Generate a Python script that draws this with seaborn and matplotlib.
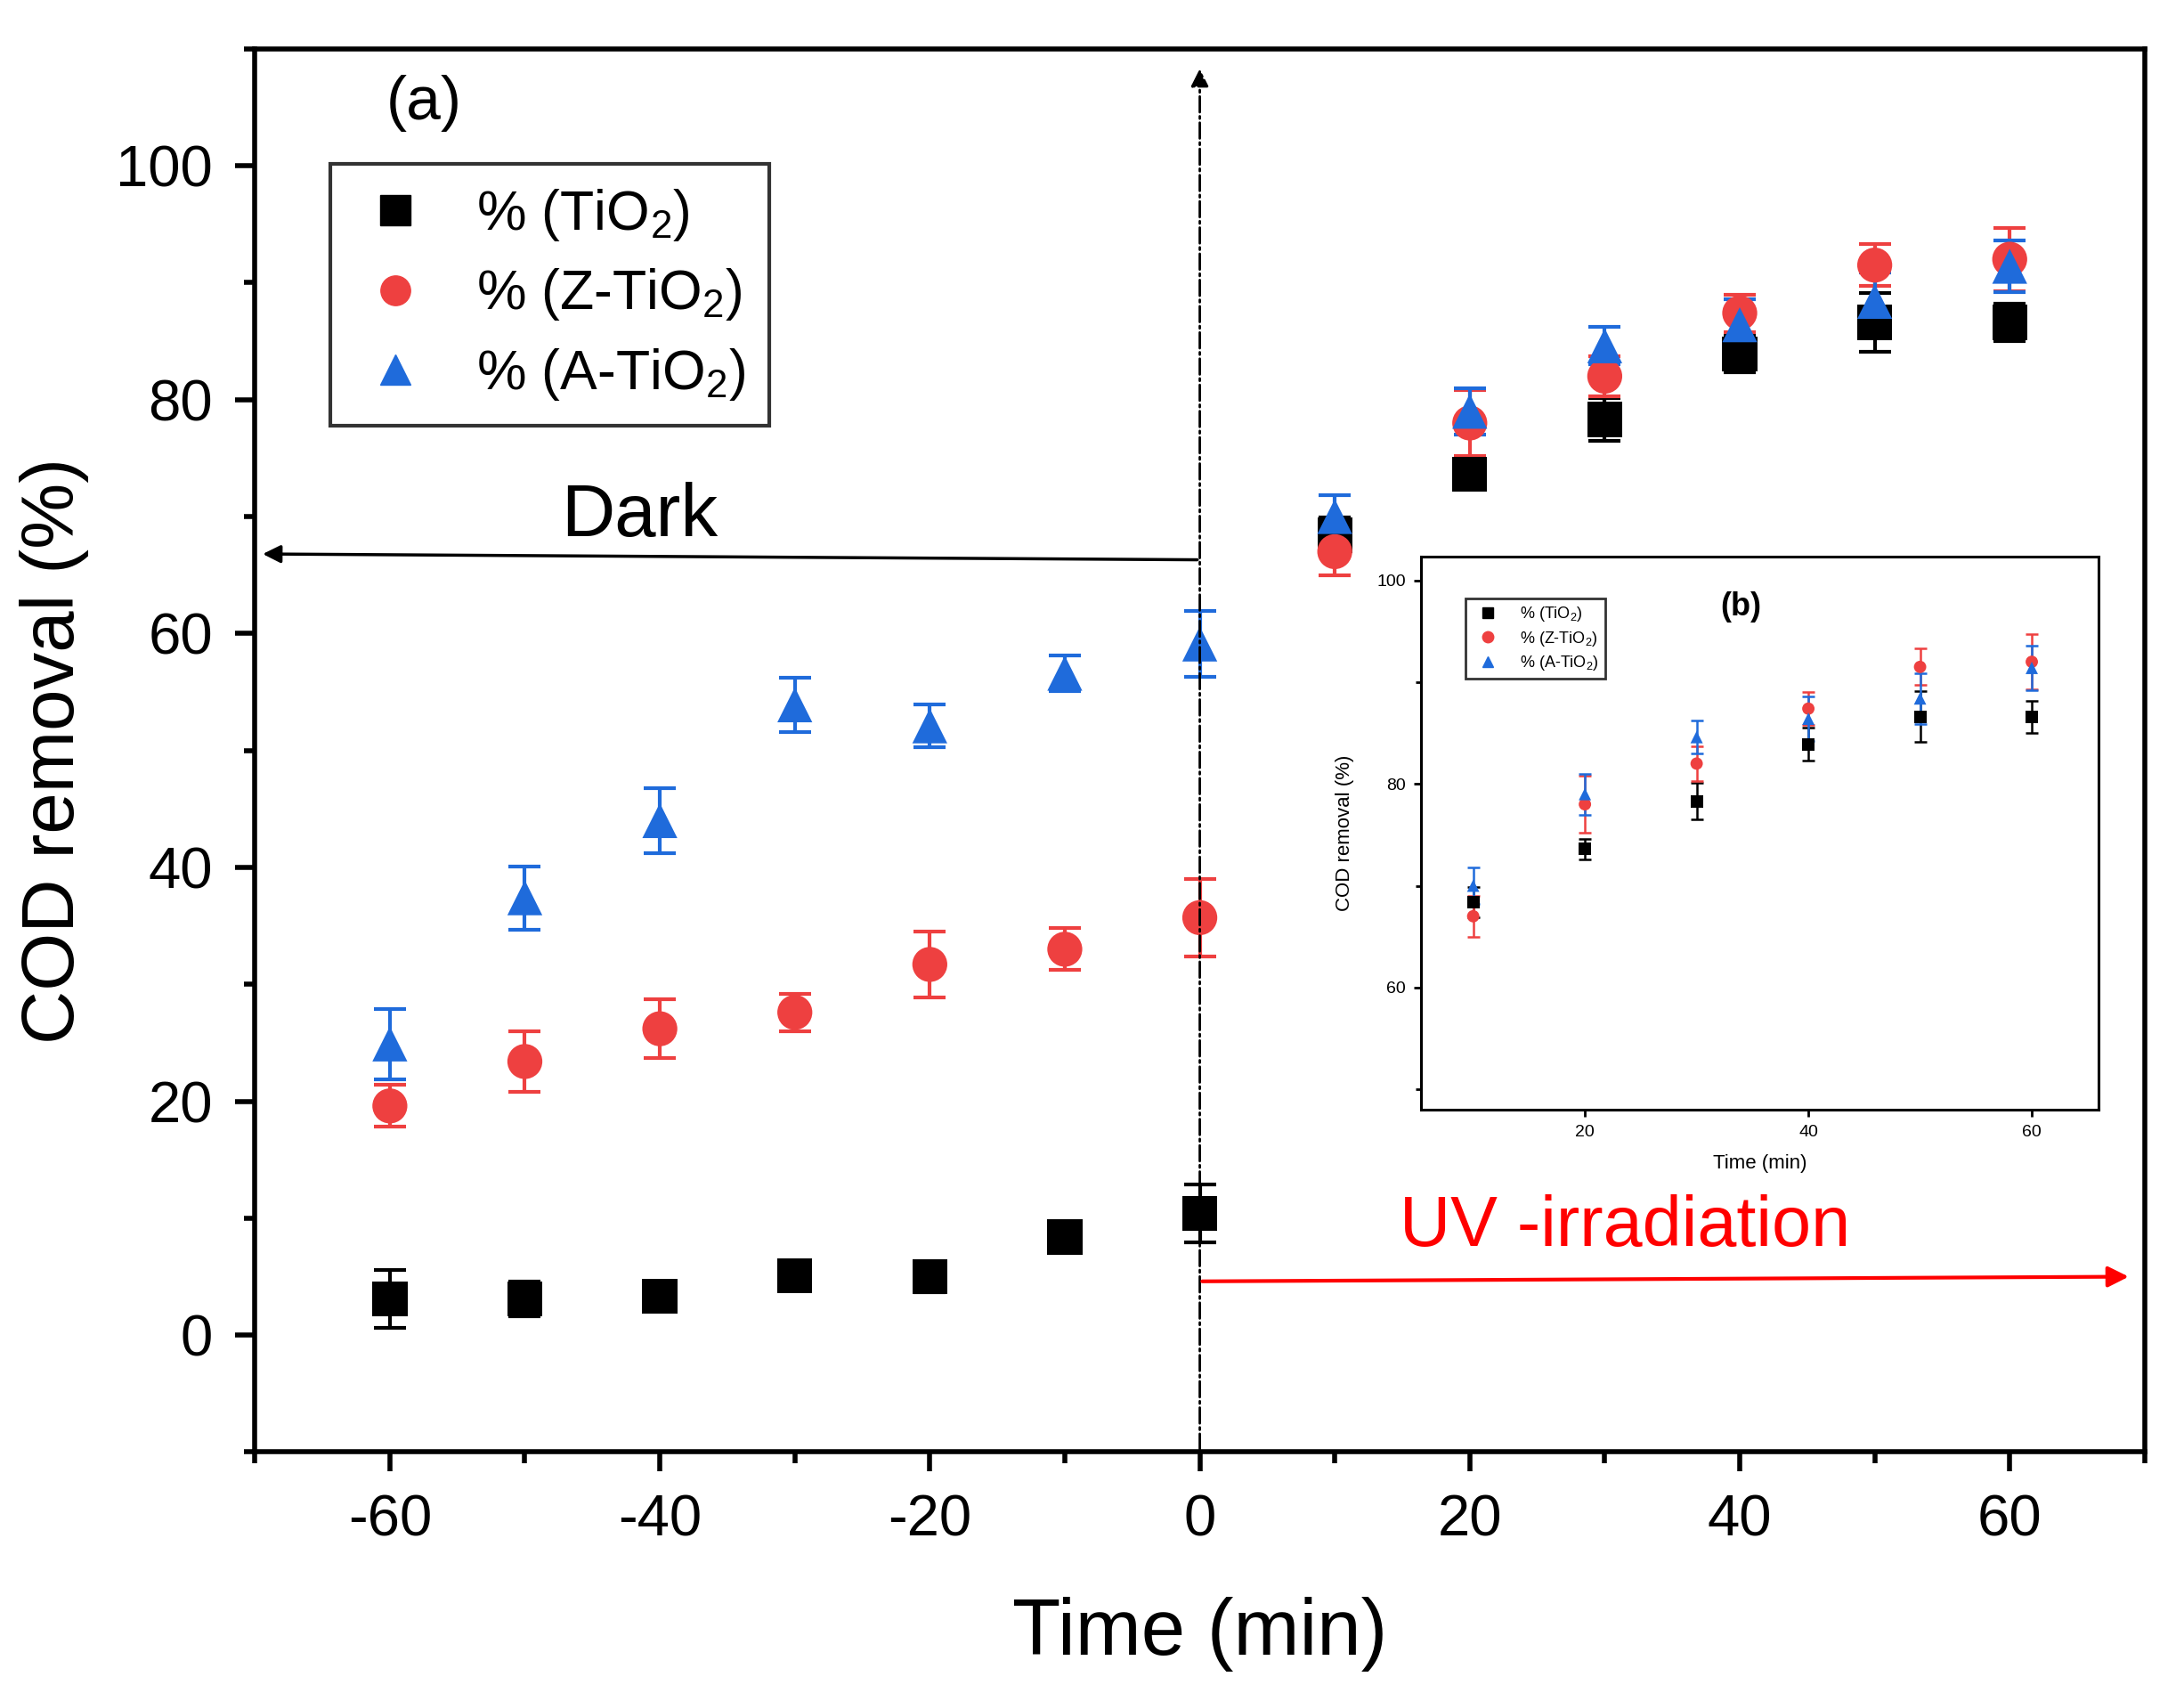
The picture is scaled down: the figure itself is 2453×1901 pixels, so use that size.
import numpy as np
import pandas as pd
import matplotlib
matplotlib.use("Agg")
import matplotlib.pyplot as plt
from matplotlib.ticker import MultipleLocator
import seaborn as sns

# data
time = [-60, -50, -40, -30, -20, -10, 0, 10, 20, 30, 40, 50, 60]
tio2 = [3.1, 3.1, 3.3, 5.1, 5.0, 8.4, 10.4, 68.4, 73.6, 78.3, 83.9, 86.6, 86.6]
tio2_err = [2.5, 1.5, 1.2, 0.6, 1.3, 0.4, 2.5, 1.5, 1.0, 1.8, 1.6, 2.5, 1.6]
ztio2 = [19.6, 23.4, 26.2, 27.6, 31.7, 33.0, 35.7, 67.0, 78.0, 82.0, 87.4, 91.5, 92.0]
ztio2_err = [1.8, 2.6, 2.5, 1.6, 2.8, 1.8, 3.3, 2.0, 2.8, 1.7, 1.6, 1.8, 2.7]
atio2 = [24.9, 37.4, 44.0, 53.9, 52.1, 56.6, 59.1, 70.0, 79.0, 84.6, 86.4, 88.4, 91.4]
atio2_err = [3.0, 2.7, 2.8, 2.3, 1.8, 1.5, 2.8, 1.8, 2.0, 1.6, 2.2, 2.5, 2.2]

labels = ["% (TiO$_2$)", "% (Z-TiO$_2$)", "% (A-TiO$_2$)"]
colors = ["#000000", "#EE4040", "#1F6BDB"]

df = pd.DataFrame({
    "time": time * 3,
    "cod": tio2 + ztio2 + atio2,
    "err": tio2_err + ztio2_err + atio2_err,
    "sample": [labels[0]] * 13 + [labels[1]] * 13 + [labels[2]] * 13,
})

sns.set_style("ticks")
plt.rcParams["font.family"] = ["Liberation Sans", "DejaVu Sans"]
plt.rcParams["mathtext.default"] = "regular"
plt.rcParams["axes.unicode_minus"] = False
plt.rcParams["text.color"] = "black"
plt.rcParams["axes.labelcolor"] = "black"
plt.rcParams["xtick.color"] = "black"
plt.rcParams["ytick.color"] = "black"
plt.rcParams["axes.edgecolor"] = "black"

fig = plt.figure(figsize=(24.53, 19.01), dpi=100)
ax = fig.add_axes([0.1167, 0.1423, 0.8653, 0.8289])

pal = dict(zip(labels, colors))
marks = dict(zip(labels, ["s", "o", "^"]))

for lab, col in zip(labels, colors):
    sub = df[df["sample"] == lab]
    ax.errorbar(sub["time"], sub["cod"], yerr=sub["err"], fmt="none",
                ecolor=col, elinewidth=3, capsize=13, capthick=3, zorder=2)
sns.scatterplot(data=df, x="time", y="cod", hue="sample", style="sample",
                palette=pal, markers=marks, s=800, edgecolor="none",
                ax=ax, zorder=3, legend=False)

ax.set_xlim(-70, 70)
ax.set_ylim(-10, 110)
ax.xaxis.set_major_locator(MultipleLocator(20))
ax.xaxis.set_minor_locator(MultipleLocator(10))
ax.yaxis.set_major_locator(MultipleLocator(20))
ax.yaxis.set_minor_locator(MultipleLocator(10))
ax.tick_params(which="major", length=16, width=4, labelsize=47, pad=18)
ax.tick_params(which="minor", length=9, width=4)
for s in ax.spines.values():
    s.set_linewidth(4)
ax.set_xlabel("Time (min)", fontsize=64, labelpad=40)
ax.set_ylabel("COD removal (%)", fontsize=60, labelpad=22)

# legend
handles = [plt.Line2D([], [], ls="none", marker=marks[l], color=pal[l],
                      markersize=24) for l in labels]
leg = ax.legend(handles, labels, loc="upper left", bbox_to_anchor=(0.040, 0.918),
                borderaxespad=0, fontsize=45, frameon=True, fancybox=False,
                edgecolor="black", handletextpad=0.7, labelspacing=0.42,
                borderpad=0.42, handlelength=1.5)
leg.get_frame().set_linewidth(3)

# annotations
ax.text(-57.5, 105.3, "(a)", fontsize=50, ha="center", va="center")
ax.annotate("", xy=(0, 108.5), xytext=(0, -10),
            arrowprops=dict(arrowstyle="-|>", color="black", lw=2, ls="-.",
                            mutation_scale=30))
ax.annotate("", xy=(-69.6, 66.8), xytext=(0, 66.3),
            arrowprops=dict(arrowstyle="-|>", color="black", lw=2.5, mutation_scale=30))
ax.text(-41.5, 70, "Dark", fontsize=60, ha="center", va="center")
ax.annotate("", xy=(69, 5.0), xytext=(0, 4.6),
            arrowprops=dict(arrowstyle="-|>", color="red", lw=3, mutation_scale=35))
ax.text(31.5, 9.2, "UV -irradiation", fontsize=57, color="red", ha="center", va="center")

# inset (b)
ins = fig.add_axes([0.6505, 0.3446, 0.3105, 0.3264])
uv = df[df["time"] >= 10]
for lab, col in zip(labels, colors):
    sub = uv[uv["sample"] == lab]
    ins.errorbar(sub["time"], sub["cod"], yerr=sub["err"], fmt="none",
                 ecolor=col, elinewidth=1.8, capsize=5, capthick=1.8, zorder=2)
sns.scatterplot(data=uv, x="time", y="cod", hue="sample", style="sample",
                palette=pal, markers=marks, s=100, edgecolor="none",
                ax=ins, zorder=3, legend=False)
ins.set_xlim(5.3, 66)
ins.set_ylim(48, 102.3)
ins.xaxis.set_major_locator(MultipleLocator(20))
ins.yaxis.set_major_locator(MultipleLocator(20))
ins.yaxis.set_minor_locator(MultipleLocator(10))
ins.tick_params(which="major", length=6, width=2, labelsize=14, pad=6)
ins.tick_params(which="minor", length=4, width=2)
for s in ins.spines.values():
    s.set_linewidth(2.2)
ins.set_xlabel("Time (min)", fontsize=16, labelpad=12)
ins.set_ylabel("COD removal (%)", fontsize=16, labelpad=18)
ih = [plt.Line2D([], [], ls="none", marker=marks[l], color=pal[l],
                 markersize=9) for l in labels]
il = ins.legend(ih, labels, loc="upper left", bbox_to_anchor=(0.066, 0.925),
                borderaxespad=0, fontsize=13, frameon=True, fancybox=False,
                edgecolor="black", handletextpad=1.0, labelspacing=0.35,
                borderpad=0.4)
il.get_frame().set_linewidth(2)
ins.text(0.472, 0.91, "(b)", transform=ins.transAxes, fontsize=26,
         fontweight="bold", ha="center", va="center")

fig.savefig("out.png", dpi=100)
